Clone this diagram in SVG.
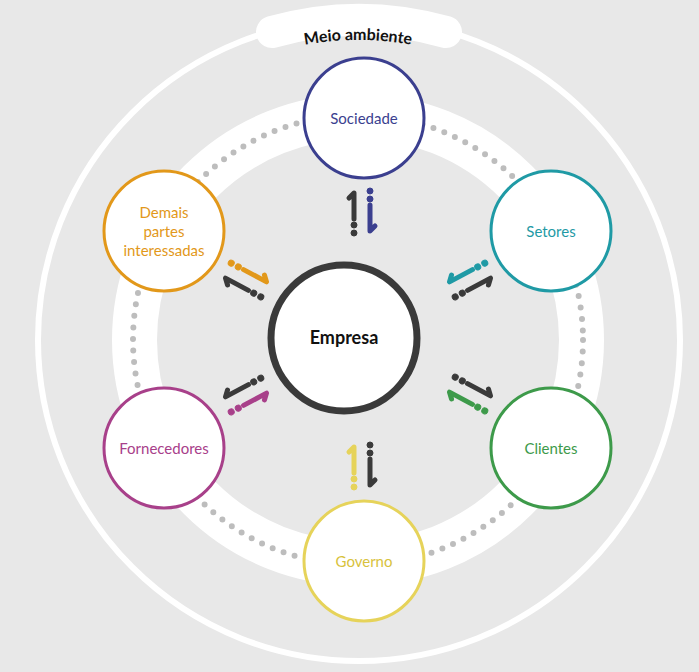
<svg xmlns="http://www.w3.org/2000/svg" width="699" height="672" viewBox="0 0 699 672">
<style>
text{font-family:"Lato","Liberation Sans",sans-serif}
.node{fill:#fff;stroke-width:3}
.lbl{font-size:15px;text-anchor:middle}
.arr{fill:none;stroke-width:5;stroke-linecap:round;stroke-linejoin:round}
</style>
<defs>
<g id="half">
<path class="arr" d="M-8,7 V-19 L-13,-14"/>
<circle cx="-8" cy="13" r="3"/>
<circle cx="-8" cy="21" r="3"/>
</g>
<path id="tp" d="M 58,340 A 300 300 0 0 1 658,340"/>
</defs>
<rect width="699" height="672" fill="#e8e8e8"/>
<g id="rings">
<circle cx="359" cy="340" r="321" fill="none" stroke="#fff" stroke-width="6"/>
<circle cx="358" cy="340" r="223.5" fill="none" stroke="#fff" stroke-width="45"/>
<circle cx="358" cy="340" r="225" fill="none" stroke="#bdbdbd" stroke-width="6" stroke-linecap="round" stroke-dasharray="0 11.6"/>
<path d="M 272,32 A 320 320 0 0 1 446,32" fill="none" stroke="#fff" stroke-width="32" stroke-linecap="round"/>
<text font-size="16" font-weight="bold" fill="#111"><textPath href="#tp" startOffset="50%" text-anchor="middle">Meio ambiente</textPath></text>
</g>
<g id="connectors">
<g transform="translate(362,212)"><use href="#half" stroke="#3a3a3a" fill="#3a3a3a"/><use href="#half" transform="rotate(180)" stroke="#3b3f8f" fill="#3b3f8f"/></g>
<g transform="translate(470,280) rotate(62) scale(-1,1)"><use href="#half" stroke="#3a3a3a" fill="#3a3a3a"/><use href="#half" transform="rotate(180)" stroke="#1f9aa5" fill="#1f9aa5"/></g>
<g transform="translate(470,394) rotate(118)"><use href="#half" stroke="#3a3a3a" fill="#3a3a3a"/><use href="#half" transform="rotate(180)" stroke="#3d9a4a" fill="#3d9a4a"/></g>
<g transform="translate(362,466) rotate(180)"><use href="#half" stroke="#3a3a3a" fill="#3a3a3a"/><use href="#half" transform="rotate(180)" stroke="#e6d35a" fill="#e6d35a"/></g>
<g transform="translate(246,395) rotate(242) scale(-1,1)"><use href="#half" stroke="#3a3a3a" fill="#3a3a3a"/><use href="#half" transform="rotate(180)" stroke="#a8408a" fill="#a8408a"/></g>
<g transform="translate(246,280) rotate(298)"><use href="#half" stroke="#3a3a3a" fill="#3a3a3a"/><use href="#half" transform="rotate(180)" stroke="#e2981a" fill="#e2981a"/></g>
</g>
<g id="empresa"><circle cx="344" cy="338" r="73" fill="#fff" stroke="#3a3a3a" stroke-width="7"/><text x="344" y="344" font-size="18" font-weight="bold" text-anchor="middle" fill="#111">Empresa</text></g>
<g id="sociedade"><circle class="node" cx="364" cy="118" r="60" stroke="#3b3f8f"/><text class="lbl" x="364" y="124" fill="#3b3f8f">Sociedade</text></g>
<g id="setores"><circle class="node" cx="551" cy="231" r="60" stroke="#1f9aa5"/><text class="lbl" x="551" y="237" fill="#1f9aa5">Setores</text></g>
<g id="clientes"><circle class="node" cx="551" cy="448" r="60" stroke="#3d9a4a"/><text class="lbl" x="551" y="454" fill="#3d9a4a">Clientes</text></g>
<g id="governo"><circle class="node" cx="364" cy="561" r="60" stroke="#e6d35a"/><text class="lbl" x="364" y="567" fill="#d8c23c">Governo</text></g>
<g id="fornecedores"><circle class="node" cx="164" cy="448" r="60" stroke="#a8408a"/><text class="lbl" x="164" y="454" fill="#a8408a">Fornecedores</text></g>
<g id="demais"><circle class="node" cx="164" cy="231" r="60" stroke="#e2981a"/><text class="lbl" fill="#e2981a"><tspan x="164" y="218">Demais</tspan><tspan x="164" y="237">partes</tspan><tspan x="164" y="256">interessadas</tspan></text></g>
</svg>
